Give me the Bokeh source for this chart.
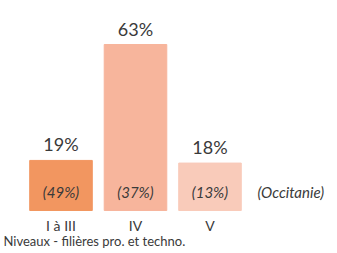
from bokeh.plotting import figure
from bokeh.models import ColumnDataSource, FixedTicker, Range1d, Label
from bokeh.core.properties import value
from bokeh.embed import file_html
from bokeh.resources import INLINE

categories = ["I à III", "IV", "V"]
shares = [19, 63, 18]
occitanie = [49, 37, 13]
colors = ["#F29660", "#F7B59C", "#F9CBBA"]
x_axis_title = "Niveaux  - filières pro. et techno."
ref_label = "(Occitanie)"

xs = [1, 2, 3]
src = ColumnDataSource(dict(
    x=xs, top=shares, color=colors,
    lab=[f"{v}%" for v in shares],
    occ=[f"({v}%)" for v in occitanie],
    occ_y=[7.2] * len(xs),
))

p = figure(width=337, height=253, output_backend="svg", toolbar_location=None,
           x_range=Range1d(0.1879, 4.7114), y_range=Range1d(-16.32, 79.7),
           min_border_left=0, min_border_right=0, min_border_top=0, min_border_bottom=0)
p.outline_line_color = None
p.grid.visible = False
p.yaxis.visible = False
p.background_fill_color = "white"

p.vbar(x="x", top="top", bottom=0, width=0.84, color="color", source=src)

p.text(x="x", y="top", text="lab", source=src, text_align="center",
       text_baseline="alphabetic", y_offset=-16, text_font=value("Lato"),
       text_font_size="18px", text_color="#3a3a3a")
p.text(x="x", y="occ_y", text="occ", source=src, text_align="center",
       text_baseline="middle", text_font=value("Lato"), text_font_style="italic",
       text_font_size="15px", text_color="#3a3a3a")

p.add_layout(Label(x=3.638, y=7.2, text=ref_label, text_align="left",
                   text_baseline="middle", text_font="Lato", text_font_style="italic",
                   text_font_size="15px", text_color="#3a3a3a"))

ax = p.xaxis[0]
ax.fixed_location = 0
ax.ticker = FixedTicker(ticks=xs)
ax.major_label_overrides = {x: c for x, c in zip(xs, categories)}
ax.axis_line_color = None
ax.major_tick_line_color = None
ax.minor_tick_line_color = None
ax.major_tick_out = 0
ax.major_label_standoff = 7
ax.major_label_text_font = "Lato"
ax.major_label_text_font_size = "14px"
ax.major_label_text_color = "#3a3a3a"

p.add_layout(Label(x=3, x_units="screen", y=-11.4, text=x_axis_title,
                   text_align="left", text_baseline="middle", text_font="Lato",
                   text_font_size="13px", text_color="#3a3a3a"))

open("out.html", "w").write(file_html(p, INLINE))
